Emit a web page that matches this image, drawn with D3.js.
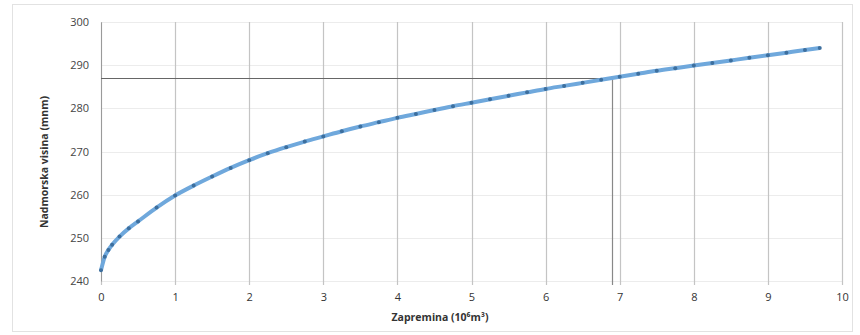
<!DOCTYPE html>
<html>
<head>
<meta charset="utf-8">
<script src="https://cdn.jsdelivr.net/npm/d3@7"></script>
<style>
  body { margin: 0; background: #fff; }
  text { font-family: "Open Sans", "DejaVu Sans", sans-serif; }
</style>
</head>
<body>
<div id="chart"></div>
<script>
// zapremina (10^6 m3)
var volume = [0, 0.05, 0.1, 0.15, 0.25, 0.375, 0.5, 0.75, 1, 1.25, 1.5, 1.75, 2, 2.25, 2.5, 2.75, 3, 3.25, 3.5, 3.75,
  4, 4.25, 4.5, 4.75, 5, 5.25, 5.5, 5.75, 6, 6.25, 6.5, 6.75, 7, 7.25, 7.5, 7.75,
  8, 8.25, 8.5, 8.75, 9, 9.25, 9.5, 9.7];
// nadmorska visina
var level = [242.5, 245.6, 247.2, 248.4, 250.3, 252.2, 253.8, 257.0, 259.8, 262.1, 264.2, 266.2, 268.0, 269.6, 271.0, 272.3,
  273.5, 274.7, 275.8, 276.8, 277.8, 278.7, 279.6, 280.5, 281.3, 282.1, 282.9, 283.7,
  284.5, 285.2, 285.9, 286.6, 287.3, 288.0, 288.7, 289.3, 289.9, 290.5, 291.1, 291.7,
  292.3, 292.9, 293.5, 294.0];
var xTicks = [0, 1, 2, 3, 4, 5, 6, 7, 8, 9, 10];
var yTicks = [240, 250, 260, 270, 280, 290, 300];
var refLevel = 287;
var refVolume = 6.9;

var W = 860, H = 335;
var margin = { top: 22, right: 18, bottom: 54, left: 101 };

var svg = d3.select("#chart").append("svg")
  .attr("width", W)
  .attr("height", H);

// chart frame
svg.append("rect")
  .attr("x", 12.5).attr("y", 4.5)
  .attr("width", W - 20).attr("height", H - 8)
  .attr("fill", "none")
  .attr("stroke", "#e2e2e2");

var x = d3.scaleLinear().domain([0, 10]).range([margin.left, W - margin.right]);
var y = d3.scaleLinear().domain([240, 300]).range([H - margin.bottom, margin.top]);

// horizontal grid
svg.append("g")
  .selectAll("line")
  .data(yTicks)
  .enter().append("line")
  .attr("x1", x(0)).attr("x2", x(10))
  .attr("y1", d => Math.round(y(d)) + 0.5)
  .attr("y2", d => Math.round(y(d)) + 0.5)
  .attr("stroke", "#ececec");

// vertical grid
svg.append("g")
  .selectAll("line")
  .data(xTicks)
  .enter().append("line")
  .attr("x1", d => Math.round(x(d)) + 0.5)
  .attr("x2", d => Math.round(x(d)) + 0.5)
  .attr("y1", y(300)).attr("y2", y(240) + 4)
  .attr("stroke", "#c4c4c4")
  .attr("stroke-width", 1.2);

// y axis
var yAxis = d3.axisLeft(y).tickValues(yTicks).tickSize(0).tickPadding(12);
var gy = svg.append("g")
  .attr("transform", "translate(" + x(0) + ",0)")
  .call(yAxis);
gy.select(".domain").attr("stroke", "#9a9a9a");
gy.selectAll("text").attr("font-size", 11).attr("fill", "#444");

// x axis
var xAxis = d3.axisBottom(x).tickValues(xTicks).tickSize(0).tickPadding(12);
var gx = svg.append("g")
  .attr("transform", "translate(0," + y(240) + ")")
  .call(xAxis);
gx.select(".domain").remove();
gx.selectAll("text").attr("font-size", 11).attr("fill", "#333");

// reference lines
svg.append("line")
  .attr("x1", x(0)).attr("x2", x(refVolume))
  .attr("y1", Math.round(y(refLevel)) + 0.5).attr("y2", Math.round(y(refLevel)) + 0.5)
  .attr("stroke", "#666")
  .attr("stroke-width", 1.2);
svg.append("line")
  .attr("x1", Math.round(x(refVolume)) + 0.5).attr("x2", Math.round(x(refVolume)) + 0.5)
  .attr("y1", y(refLevel)).attr("y2", y(240) + 4)
  .attr("stroke", "#888")
  .attr("stroke-width", 1.2);

// curve
var pts = volume.map((v, i) => [v, level[i]]);
var line = d3.line()
  .x(d => x(d[0]))
  .y(d => y(d[1]))
  .curve(d3.curveMonotoneX);

svg.append("path")
  .datum(pts)
  .attr("fill", "none")
  .attr("stroke", "#6fa8dc")
  .attr("stroke-width", 4)
  .attr("d", line);

svg.append("g")
  .selectAll("circle")
  .data(pts)
  .enter().append("circle")
  .attr("cx", d => x(d[0]))
  .attr("cy", d => y(d[1]))
  .attr("r", 2)
  .attr("fill", "#3d6f9e");

// axis titles
svg.append("text")
  .attr("x", 440).attr("y", 321)
  .attr("text-anchor", "middle")
  .attr("font-size", 10.5)
  .attr("font-weight", "bold")
  .attr("fill", "#333")
  .text("Zapremina (10⁶m³)");

svg.append("text")
  .attr("transform", "translate(48," + 162 + ") rotate(-90)")
  .attr("text-anchor", "middle")
  .attr("font-size", 10.5)
  .attr("font-weight", "bold")
  .attr("fill", "#333")
  .text("Nadmorska visina (mnm)");
</script>
</body>
</html>
